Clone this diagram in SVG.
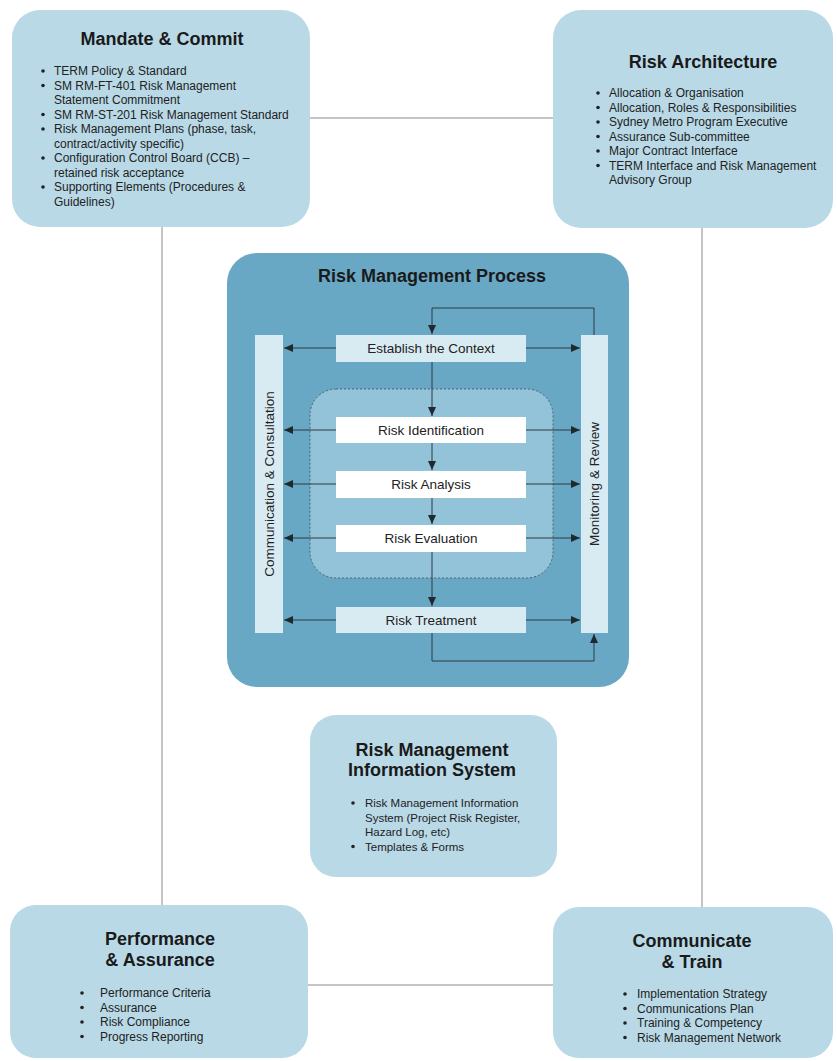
<svg xmlns="http://www.w3.org/2000/svg" width="837" height="1061" viewBox="0 0 837 1061">
<defs>
<marker id="ah" markerWidth="10" markerHeight="10" refX="9" refY="5" orient="auto" markerUnits="userSpaceOnUse">
<path d="M0,1 L9,5 L0,9 Z" fill="#1f2a30"/>
</marker>
<style>
.box{fill:#b9d9e7;}
.title{font-family:"Liberation Sans",Arial,sans-serif;font-weight:bold;font-size:18px;fill:#1a1a1a;text-anchor:middle;}
.item{font-family:"Liberation Sans",Arial,sans-serif;font-size:12px;fill:#222;}
.dot{fill:#222;}
.conn{stroke:#8a8a8a;stroke-width:1;fill:none;}
.flow{stroke:#2c3a42;stroke-width:1;fill:none;}
.step{font-family:"Liberation Sans",Arial,sans-serif;font-size:13.5px;fill:#222;text-anchor:middle;}
.light{fill:#d9ebf2;}
.white{fill:#ffffff;}
</style>
</defs>
<rect width="837" height="1061" fill="#ffffff"/>

<g id="connectors">
<line class="conn" x1="310" y1="118" x2="553" y2="118"/>
<line class="conn" x1="162" y1="226" x2="162" y2="905"/>
<line class="conn" x1="702" y1="228" x2="702" y2="907"/>
<line class="conn" x1="308" y1="985" x2="553" y2="985"/>
</g>

<g id="mandate-commit">
<rect class="box" x="12" y="10" width="298" height="217" rx="28"/>
<text class="title" x="162" y="45">Mandate &amp; Commit</text>
<g class="dot"><circle cx="43" cy="71" r="1.8"/><circle cx="43" cy="85.5" r="1.8"/><circle cx="43" cy="114.5" r="1.8"/><circle cx="43" cy="129" r="1.8"/><circle cx="43" cy="158" r="1.8"/><circle cx="43" cy="187" r="1.8"/></g>
<text class="item" x="54" y="75">TERM Policy &amp; Standard</text>
<text class="item" x="54" y="89.5">SM RM-FT-401 Risk Management</text>
<text class="item" x="54" y="104">Statement Commitment</text>
<text class="item" x="54" y="118.5">SM RM-ST-201 Risk Management Standard</text>
<text class="item" x="54" y="133">Risk Management Plans (phase, task,</text>
<text class="item" x="54" y="147.5">contract/activity specific)</text>
<text class="item" x="54" y="162">Configuration Control Board (CCB) –</text>
<text class="item" x="54" y="176.5">retained risk acceptance</text>
<text class="item" x="54" y="191">Supporting Elements (Procedures &amp;</text>
<text class="item" x="54" y="205.5">Guidelines)</text>
</g>

<g id="risk-architecture">
<rect class="box" x="553" y="10" width="280" height="218" rx="28"/>
<text class="title" x="703" y="68">Risk Architecture</text>
<g class="dot"><circle cx="598" cy="93" r="1.8"/><circle cx="598" cy="107.5" r="1.8"/><circle cx="598" cy="122" r="1.8"/><circle cx="598" cy="136.5" r="1.8"/><circle cx="598" cy="151" r="1.8"/><circle cx="598" cy="165.5" r="1.8"/></g>
<text class="item" x="609" y="97">Allocation &amp; Organisation</text>
<text class="item" x="609" y="111.5">Allocation, Roles &amp; Responsibilities</text>
<text class="item" x="609" y="126">Sydney Metro Program Executive</text>
<text class="item" x="609" y="140.5">Assurance Sub-committee</text>
<text class="item" x="609" y="155">Major Contract Interface</text>
<text class="item" x="609" y="169.5">TERM Interface and Risk Management</text>
<text class="item" x="609" y="184">Advisory Group</text>
</g>

<g id="risk-management-process">
<rect x="227" y="253" width="402" height="434" rx="30" fill="#69a8c5"/>
<text class="title" x="432" y="282">Risk Management Process</text>
<rect x="310" y="389" width="243" height="189" rx="26" fill="#93c3d8" stroke="#4a6470" stroke-width="1" stroke-dasharray="2,2"/>
</g>

<g id="communication-consultation">
<rect class="light" x="255" y="335" width="28" height="298"/>
<text class="step" transform="translate(274,484) rotate(-90)">Communication &amp; Consultation</text>
</g>

<g id="monitoring-review">
<rect class="light" x="581" y="335" width="27" height="298"/>
<text class="step" transform="translate(599,484) rotate(-90)">Monitoring &amp; Review</text>
</g>

<g id="establish-context">
<rect class="light" x="336" y="335" width="190" height="27"/>
<text class="step" x="431" y="353">Establish the Context</text>
</g>
<g id="risk-identification">
<rect class="white" x="336" y="417" width="190" height="26"/>
<text class="step" x="431" y="435">Risk Identification</text>
</g>
<g id="risk-analysis">
<rect class="white" x="336" y="471" width="190" height="27"/>
<text class="step" x="431" y="489">Risk Analysis</text>
</g>
<g id="risk-evaluation">
<rect class="white" x="336" y="525" width="190" height="27"/>
<text class="step" x="431" y="543">Risk Evaluation</text>
</g>
<g id="risk-treatment">
<rect class="light" x="336" y="607" width="190" height="26"/>
<text class="step" x="431" y="625">Risk Treatment</text>
</g>

<g id="process-flows">
<path class="flow" d="M594,335 V308 H432 V334" marker-end="url(#ah)"/>
<line class="flow" x1="432" y1="362" x2="432" y2="416" marker-end="url(#ah)"/>
<line class="flow" x1="432" y1="443" x2="432" y2="470" marker-end="url(#ah)"/>
<line class="flow" x1="432" y1="498" x2="432" y2="524" marker-end="url(#ah)"/>
<line class="flow" x1="432" y1="552" x2="432" y2="606" marker-end="url(#ah)"/>
<path class="flow" d="M432,633 V661 H594 V634" marker-end="url(#ah)"/>
<line class="flow" x1="336" y1="348" x2="284" y2="348" marker-end="url(#ah)"/>
<line class="flow" x1="526" y1="348" x2="580" y2="348" marker-end="url(#ah)"/>
<line class="flow" x1="336" y1="430" x2="284" y2="430" marker-end="url(#ah)"/>
<line class="flow" x1="526" y1="430" x2="580" y2="430" marker-end="url(#ah)"/>
<line class="flow" x1="336" y1="484" x2="284" y2="484" marker-end="url(#ah)"/>
<line class="flow" x1="526" y1="484" x2="580" y2="484" marker-end="url(#ah)"/>
<line class="flow" x1="336" y1="538" x2="284" y2="538" marker-end="url(#ah)"/>
<line class="flow" x1="526" y1="538" x2="580" y2="538" marker-end="url(#ah)"/>
<line class="flow" x1="336" y1="620" x2="284" y2="620" marker-end="url(#ah)"/>
<line class="flow" x1="526" y1="620" x2="580" y2="620" marker-end="url(#ah)"/>
</g>

<g id="information-system">
<rect class="box" x="310" y="715" width="247" height="162" rx="26"/>
<text class="title" x="432" y="756">Risk Management</text>
<text class="title" x="432" y="776">Information System</text>
<g class="dot"><circle cx="353" cy="803" r="1.8"/><circle cx="353" cy="846.5" r="1.8"/></g>
<text class="item" x="365" y="807" style="font-size:11.5px">Risk Management Information</text>
<text class="item" x="365" y="821.5" style="font-size:11.5px">System (Project Risk Register,</text>
<text class="item" x="365" y="836" style="font-size:11.5px">Hazard Log, etc)</text>
<text class="item" x="365" y="850.5" style="font-size:11.5px">Templates &amp; Forms</text>
</g>

<g id="performance-assurance">
<rect class="box" x="10" y="905" width="298" height="153" rx="26"/>
<text class="title" x="160" y="945">Performance</text>
<text class="title" x="160" y="966">&amp; Assurance</text>
<g class="dot"><circle cx="82" cy="993" r="1.8"/><circle cx="82" cy="1007.5" r="1.8"/><circle cx="82" cy="1022" r="1.8"/><circle cx="82" cy="1036.5" r="1.8"/></g>
<text class="item" x="100" y="997">Performance Criteria</text>
<text class="item" x="100" y="1011.5">Assurance</text>
<text class="item" x="100" y="1026">Risk Compliance</text>
<text class="item" x="100" y="1040.5">Progress Reporting</text>
</g>

<g id="communicate-train">
<rect class="box" x="553" y="907" width="280" height="151" rx="26"/>
<text class="title" x="692" y="947">Communicate</text>
<text class="title" x="692" y="968">&amp; Train</text>
<g class="dot"><circle cx="625" cy="994" r="1.8"/><circle cx="625" cy="1008.5" r="1.8"/><circle cx="625" cy="1023" r="1.8"/><circle cx="625" cy="1037.5" r="1.8"/></g>
<text class="item" x="637" y="998">Implementation Strategy</text>
<text class="item" x="637" y="1012.5">Communications Plan</text>
<text class="item" x="637" y="1027">Training &amp; Competency</text>
<text class="item" x="637" y="1041.5">Risk Management Network</text>
</g>
</svg>
